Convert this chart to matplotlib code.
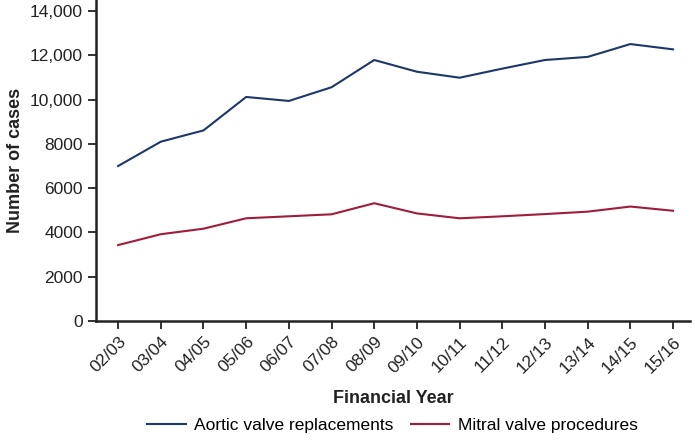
import matplotlib.pyplot as plt

years = ["02/03", "03/04", "04/05", "05/06", "06/07", "07/08", "08/09",
         "09/10", "10/11", "11/12", "12/13", "13/14", "14/15", "15/16"]
aortic = [7000, 8100, 8610, 10120, 9940, 10560, 11790,
          11260, 10990, 11400, 11790, 11930, 12510, 12270]
mitral = [3430, 3920, 4170, 4640, 4730, 4820, 5320,
          4860, 4640, 4730, 4830, 4940, 5170, 4980]
ytick_vals = [0, 2000, 4000, 6000, 8000, 10000, 12000, 14000]
ytick_labels = ["0", "2000", "4000", "6000", "8000", "10,000", "12,000", "14,000"]

plt.rcParams['font.family'] = ['Liberation Sans', 'DejaVu Sans']

fig = plt.figure(figsize=(6.95, 4.44), dpi=100)
ax = fig.add_axes([0.138, 0.277, 0.855, 0.723])

x = list(range(len(years)))
ax.plot(x, aortic, color="#1d3768", lw=1.5, label="Aortic valve replacements")
ax.plot(x, mitral, color="#a01c3c", lw=1.5, label="Mitral valve procedures")

ax.set_xlim(-0.52, 13.4)
ax.set_ylim(0, 14500)
ax.set_yticks(ytick_vals)
ax.set_yticklabels(ytick_labels, fontsize=12.5, color="#222222")
ax.set_xticks(x)
ax.set_xticklabels(years, rotation=45, ha="right", rotation_mode="anchor",
                   fontsize=12.5, color="#222222")

for side in ["top", "right"]:
    ax.spines[side].set_visible(False)
for side in ["left", "bottom"]:
    ax.spines[side].set_linewidth(1.8)
    ax.spines[side].set_color("#222222")
ax.tick_params(axis="both", length=6, width=1.3, color="#222222")

ax.set_ylabel("Number of cases", fontsize=13, fontweight="bold", color="#222222")
ax.set_xlabel("Financial Year", fontsize=13, fontweight="bold", color="#222222",
              labelpad=10)

fig.legend(loc="lower center", bbox_to_anchor=(0.565, -0.01), ncol=2, frameon=False,
           fontsize=12.5, handlelength=2.2, columnspacing=1.0, handletextpad=0.5)

fig.savefig("out.png", dpi=100)
